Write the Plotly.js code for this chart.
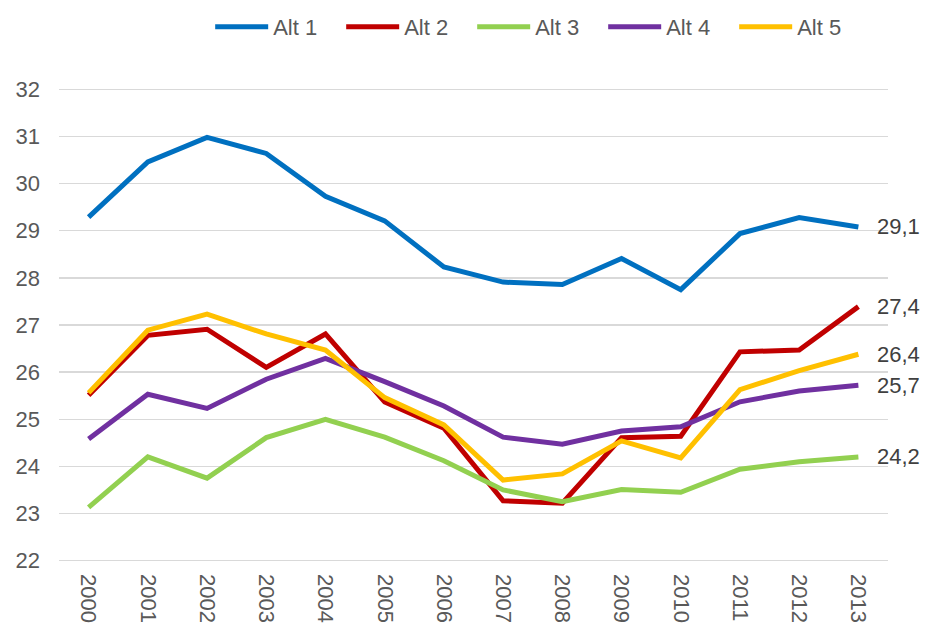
<!DOCTYPE html>
<html>
<head>
<meta charset="utf-8">
<script src="https://cdn.plot.ly/plotly-3.0.1.min.js"></script>
<style>html,body{margin:0;padding:0;background:#fff;}#chart{width:930px;height:628px;}</style>
</head>
<body>
<div id="chart"></div>
<script>
const years = ['2000','2001','2002','2003','2004','2005','2006','2007','2008','2009','2010','2011','2012','2013'];
const seriesNames = ['Alt 1','Alt 2','Alt 3','Alt 4','Alt 5'];
const alt1 = [29.29,30.46,30.98,30.64,29.73,29.21,28.23,27.91,27.86,28.41,27.75,28.94,29.28,29.08];
const alt2 = [25.51,26.78,26.91,26.10,26.81,25.37,24.81,23.27,23.22,24.61,24.64,26.43,26.47,27.39];
const alt3 = [23.13,24.20,23.75,24.61,25.00,24.62,24.12,23.50,23.25,23.51,23.45,23.94,24.10,24.20];
const alt4 = [24.58,25.53,25.23,25.85,26.29,25.80,25.28,24.62,24.47,24.75,24.84,25.37,25.60,25.72];
const alt5 = [25.56,26.89,27.23,26.81,26.47,25.46,24.88,23.71,23.84,24.54,24.18,25.63,26.03,26.38];
const colors = ['#0070C0','#C00000','#92D050','#7030A0','#FFC000'];
const allSeries = [alt1, alt2, alt3, alt4, alt5];

const FONT = '"Liberation Sans", Arial, sans-serif';

const traces = allSeries.map((vals, i) => ({
  type: 'scatter',
  mode: 'lines',
  name: seriesNames[i],
  x: years,
  y: vals,
  line: {color: colors[i], width: 5, shape: 'linear'},
  hoverinfo: 'x+y'
}));

const lastIdx = years.length - 1;
const annotations = allSeries.map((vals, i) => ({
  x: lastIdx,
  y: vals[lastIdx],
  xref: 'x', yref: 'y',
  text: vals[lastIdx].toFixed(1).replace('.', ','),
  showarrow: false,
  xanchor: 'left',
  yanchor: 'middle',
  xshift: 17,
  font: {family: FONT, size: 22, color: '#404040'}
}));

const layout = {
  width: 930, height: 628,
  margin: {l: 59, r: 42, t: 87, b: 65, pad: 0},
  paper_bgcolor: '#ffffff',
  plot_bgcolor: '#ffffff',
  font: {family: FONT, size: 22, color: '#595959'},
  showlegend: true,
  legend: {
    orientation: 'h',
    xref: 'container', yref: 'container',
    x: 0.226, xanchor: 'left',
    y: 0.957, yanchor: 'middle',
    font: {family: FONT, size: 22, color: '#595959'},
    itemwidth: 53,
    entrywidth: 63,
    traceorder: 'normal'
  },
  xaxis: {
    type: 'category',
    range: [-0.5, lastIdx + 0.5],
    autorange: false,
    tickangle: 90,
    showgrid: false,
    zeroline: false,
    showline: false,
    ticks: '',
    tickfont: {family: FONT, size: 22, color: '#595959'},
    ticklabelstandoff: 10,
    fixedrange: true
  },
  yaxis: {
    range: [21.95, 32.05],
    autorange: false,
    dtick: 1,
    tick0: 22,
    showgrid: true,
    gridcolor: '#D9D9D9',
    gridwidth: 1.5,
    zeroline: false,
    showline: false,
    ticks: '',
    tickfont: {family: FONT, size: 22, color: '#595959'},
    ticklabelstandoff: 18,
    fixedrange: true
  },
  annotations: annotations
};

Plotly.newPlot('chart', traces, layout, {displayModeBar: false, staticPlot: true});
</script>
</body>
</html>
